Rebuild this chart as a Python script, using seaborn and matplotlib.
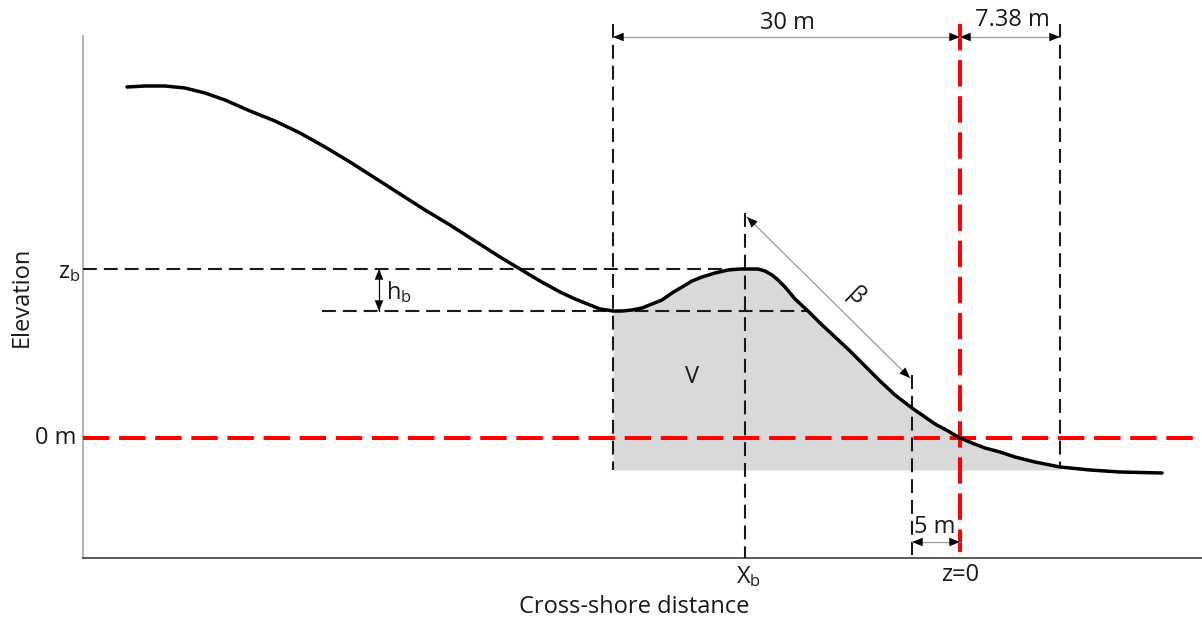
import matplotlib
matplotlib.use("Agg")
import matplotlib.pyplot as plt
import numpy as np
import pandas as pd
import seaborn as sns

# Beach profile (cross-shore position, elevation above the 0 m datum)
profile_x = [127, 145, 165, 185, 205, 225, 250, 275, 300, 325, 350, 375, 400, 425,
             450, 475, 500, 520, 540, 560, 575, 590, 600, 607, 613, 622, 632, 642,
             652, 662, 672, 682, 692, 702, 715, 728, 740, 750, 758, 765, 772, 778,
             785, 795, 808, 820, 835, 850, 865, 880, 895, 912, 925, 935, 948, 960,
             972, 985, 1000, 1015, 1035, 1060, 1090, 1120, 1162]
profile_z = [351, 352, 352, 350, 345, 338, 327, 317, 305, 291, 276, 260, 244, 228,
             213, 197, 181, 169, 157, 146, 139, 133, 129, 128, 127, 127, 128, 130,
             134, 138, 145, 151, 157, 161, 165, 168, 169, 169, 169, 167, 163, 158,
             151, 139, 127, 115, 101, 87, 72, 57, 43, 30, 21, 14, 7, 0,
             -5, -10, -14, -19, -24, -29, -32, -34, -35]

# Key profile features
x_trough = 613      # landward limit of the berm volume
x_crest = 745       # X_b, berm crest position
x_slope_ref = 912   # 5 m landward of the shoreline
x_zero = 960        # shoreline, z = 0
x_seaward = 1060    # seaward limit
z_crest = 169       # z_b
z_trough = 127      # trough level (z_b - h_b)
z_base = -32        # base of the volume V

sns.set_style("white")
plt.rcParams["font.family"] = ["Open Sans", "DejaVu Sans"]
plt.rcParams["lines.scale_dashes"] = False

W, H = 1202, 623
fig = plt.figure(figsize=(W / 100, H / 100), dpi=100)
ax = fig.add_axes([83 / W, 65 / H, (W - 83) / W, 522 / H])
ax.set_xlim(83, 1202)
ax.set_ylim(-120, 402)
ax.set_xticks([])
ax.set_yticks([])
for side in ("top", "right"):
    ax.spines[side].set_visible(False)
ax.spines["left"].set_color("#b4b4b4")
ax.spines["left"].set_linewidth(1.5)
ax.spines["bottom"].set_color("#4d4d4d")
ax.spines["bottom"].set_linewidth(1.3)

df = pd.DataFrame({"x": profile_x, "z": profile_z})

# Volume V between trough and seaward limit
sub = df[(df.x >= x_trough) & (df.x <= x_seaward)]
ax.fill_between(sub.x, sub.z, z_base, color="#d9d9d9", lw=0, zorder=1)

blk = dict(color="#1a1a1a", lw=1.5, ls=(0, (10, 5)), clip_on=False, zorder=3)
red = dict(color="#ff0000", lw=2.9, ls=(0, (19, 7)), clip_on=False, zorder=4)

# Reference lines
ax.plot([x_trough, x_trough], [414, z_base], **blk)
ax.plot([x_seaward, x_seaward], [414, -29], **blk)
ax.plot([x_crest, x_crest], [225, -120], **blk)
ax.plot([x_slope_ref, x_slope_ref], [63, -117], **blk)
ax.plot([83, x_crest], [z_crest, z_crest], **blk)
ax.plot([322, 808], [z_trough, z_trough], **blk)
ax.plot([83, 1198], [0, 0], **red)
ax.plot([x_zero, x_zero], [414, -114], **red)

# Profile
sns.lineplot(data=df, x="x", y="z", sort=False, color="black", lw=2.5,
             ax=ax, zorder=5)
for ln in ax.lines[-1:]:
    ln.set_solid_joinstyle("round")
ax.set_xlabel("")
ax.set_ylabel("")


def dim_arrow(p0, p1, line_color="#9a9a9a"):
    """Thin dimension line with small black heads at both ends."""
    ax.plot([p0[0], p1[0]], [p0[1], p1[1]], color=line_color, lw=0.9,
            clip_on=False, zorder=6)
    for tip, tail in ((p0, p1), (p1, p0)):
        ax.annotate("", xy=tip, xytext=tail,
                    arrowprops=dict(arrowstyle="-|>,head_length=0.55,head_width=0.22",
                                    color="black", lw=0, shrinkA=0, shrinkB=0,
                                    mutation_scale=14),
                    annotation_clip=False, zorder=7)


dim_arrow((x_trough, 401), (x_zero, 401))
dim_arrow((x_zero, 401), (x_seaward, 401))
dim_arrow((x_slope_ref, -104), (x_zero, -104))
dim_arrow((747, 221), (910, 60))
dim_arrow((379, z_crest), (379, z_trough), line_color="black")

fs = 17
txt = dict(fontsize=fs, color="#1a1a1a", clip_on=False)
ax.text(787, 438 - 23, "30 m", ha="center", va="center", **txt)
ax.text(1012, 438 - 20, "7.38 m", ha="center", va="center", **txt)
ax.text(935, 438 - 527, "5 m", ha="center", va="center", **txt)
ax.text(692, 438 - 377, "V", ha="center", va="center", **txt)
ax.text(386, 438 - 292, r"$\mathregular{h_b}$", ha="left", va="center", **txt)
ax.text(80, 438 - 272, r"$\mathregular{z_b}$", ha="right", va="center", **txt)
ax.text(76, 0, "0 m", ha="right", va="center", **txt)
ax.text(749, 438 - 577, r"$\mathregular{X_b}$", ha="center", va="center", **txt)
ax.text(960, 438 - 575, "z=0", ha="center", va="center", **txt)
ax.text(856, 438 - 297, "β", ha="center", va="center", rotation=-44,
        rotation_mode="anchor", **txt)

fig.text(22 / W, 1 - 297 / H, "Elevation", rotation=90, ha="center",
         va="center", fontsize=fs, color="#1a1a1a")
fig.text(634 / W, 1 - 607 / H, "Cross-shore distance", ha="center",
         va="center", fontsize=fs, color="#1a1a1a")

fig.savefig("out.png", dpi=100)
